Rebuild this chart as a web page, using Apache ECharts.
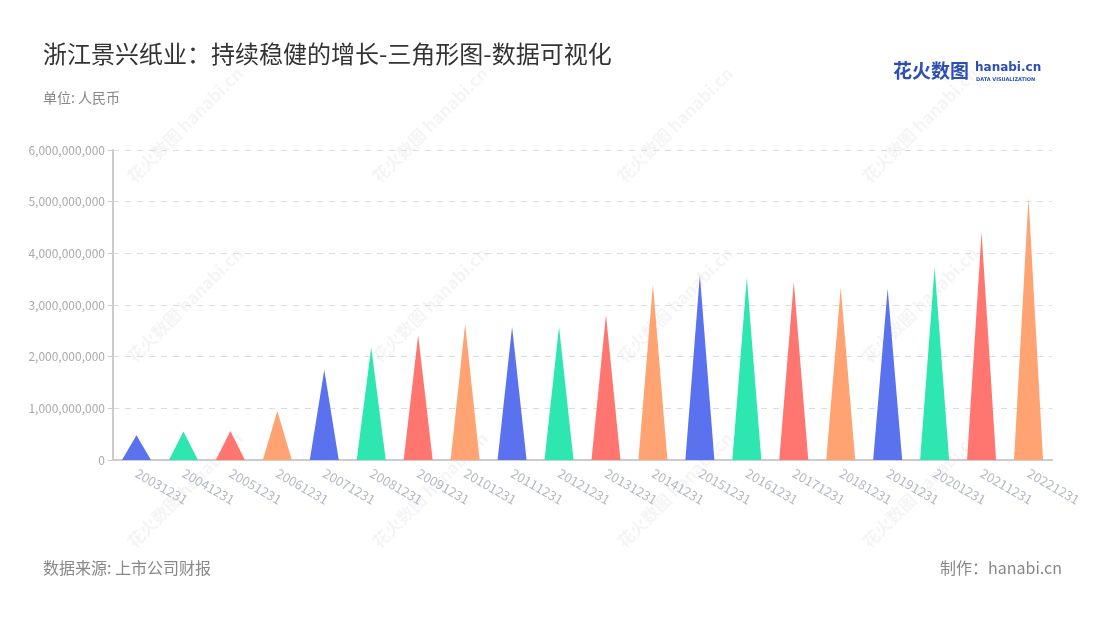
<!DOCTYPE html>
<html>
<head>
<meta charset="utf-8">
<script src="https://cdn.jsdelivr.net/npm/echarts@6/dist/echarts.min.js"></script>
<style>
html,body{margin:0;padding:0;background:#fff;}
#main{width:1100px;height:620px;}
</style>
</head>
<body>
<div id="main"></div>
<script>
const categories = ['20031231','20041231','20051231','20061231','20071231','20081231','20091231','20101231','20111231','20121231','20131231','20141231','20151231','20161231','20171231','20181231','20191231','20201231','20211231','20221231'];
const revenue = [480000000,550000000,560000000,950000000,1740000000,2180000000,2420000000,2630000000,2580000000,2580000000,2810000000,3400000000,3580000000,3530000000,3450000000,3340000000,3320000000,3730000000,4410000000,5080000000];
const palette = ['#5a72ee','#2ee6b0','#ff7670','#ffa372'];
const yTicks = [0,1000000000,2000000000,3000000000,4000000000,5000000000,6000000000];

const chart = echarts.init(document.getElementById('main'));

const font = '"Noto Sans CJK SC", "Noto Sans", sans-serif';

// faint watermark graphics
const wm = [];
const wmX = [185, 430, 675, 920];
const wmY = [125, 305, 490];
wmY.forEach(y => wmX.forEach(x => {
  wm.push({
    type:'text', x:x, y:y, rotation: Math.PI/4, silent:true, z:0,
    style:{ text:'花火数图 hanabi.cn', fill:'rgba(0,0,0,0.045)', font:'bold 17px ' + font, align:'center', verticalAlign:'middle' }
  });
}));

const option = {
  backgroundColor:'#fff',
  textStyle:{fontFamily:font},
  title:[
    {text:'浙江景兴纸业：持续稳健的增长-三角形图-数据可视化', left:38, top:37, textStyle:{fontSize:24, fontWeight:'normal', color:'#333', fontFamily:font}},
    {text:'单位: 人民币', left:38, top:86, textStyle:{fontSize:14, fontWeight:'normal', color:'#888', fontFamily:font}},
    {text:'数据来源: 上市公司财报', left:38, top:555, textStyle:{fontSize:16, fontWeight:'normal', color:'#888', fontFamily:font}},
    {text:'制作：hanabi.cn', right:33, top:555, textStyle:{fontSize:16, fontWeight:'normal', color:'#888', fontFamily:font}}
  ],
  graphic: wm.concat([
    {type:'text', left:893, top:61, z:10, style:{text:'花火数图', fill:'#2b4fb5', font:'bold 19px ' + font}},
    {type:'text', left:975, top:62, z:10, style:{text:'hanabi.cn', fill:'#2b4fb5', font:'bold 12px "DejaVu Sans", sans-serif'}},
    {type:'text', left:976, top:77, z:10, style:{text:'DATA VISUALIZATION', fill:'#2b4fb5', font:'bold 5px "DejaVu Sans", sans-serif'}}
  ]),
  grid:{left:113, right:48, top:150, bottom:160},
  xAxis:{
    type:'category',
    data:categories,
    axisLine:{lineStyle:{color:'#ccc', width:2}},
    axisTick:{alignWithLabel:true, lineStyle:{color:'#999'}},
    axisLabel:{rotate:-30, color:'#b4b8c6', fontSize:13, interval:0, margin:12, fontFamily:font}
  },
  yAxis:{
    type:'value',
    min:yTicks[0], max:yTicks[yTicks.length-1], interval:yTicks[1]-yTicks[0],
    axisLine:{show:true, lineStyle:{color:'#ccc', width:2}},
    axisTick:{show:true, lineStyle:{color:'#ccc'}},
    axisLabel:{color:'#aaa', fontSize:12, fontFamily:font, formatter:v => v.toLocaleString('en-US')},
    splitLine:{lineStyle:{color:'#ddd', type:[6,6]}}
  },
  series:[{
    type:'pictorialBar',
    symbol:'triangle',
    symbolSize:[29,'100%'],
    data: revenue.map((v,i)=>({value:v, itemStyle:{color:palette[i%palette.length]}})),
    z:5
  }]
};
chart.setOption(option);
</script>
</body>
</html>
